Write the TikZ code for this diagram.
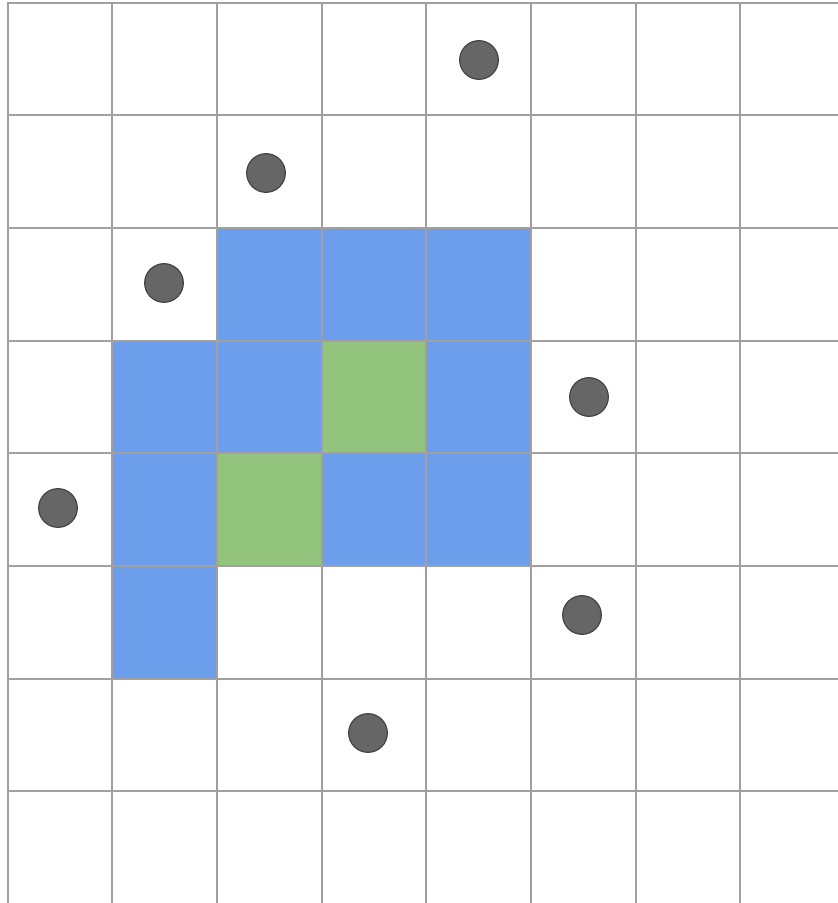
\documentclass[tikz,border=0pt]{standalone}
\definecolor{cellblue}{HTML}{6D9EEB}
\definecolor{cellgreen}{HTML}{93C47D}
\definecolor{gridgray}{HTML}{A0A0A0}
\definecolor{dotgray}{HTML}{666666}
\definecolor{dotrim}{HTML}{444444}
\begin{document}
\begin{tikzpicture}[x=0.75pt,y=-0.75pt,gridline/.style={draw=gridgray,line width=1.5pt,line cap=rect},dot/.style={circle,draw=dotrim,fill=dotgray,line width=0.9pt,minimum size=29pt,inner sep=0pt}]
\useasboundingbox (0,0) rectangle (838,903);
% filled cells
\foreach \c/\r in {2/2,3/2,4/2,1/3,2/3,4/3,1/4,3/4,4/4,1/5}{\fill[cellblue] ({7.5+104.7*\c},{2.5+112.7*\r}) rectangle ++(104.7,112.7);}
\foreach \c/\r in {3/3,2/4}{\fill[cellgreen] ({7.5+104.7*\c},{2.5+112.7*\r}) rectangle ++(104.7,112.7);}
% grid
\foreach \c in {0,...,7}{\draw[gridline] ({7.5+104.7*\c},2.5) -- ({7.5+104.7*\c},905);}
\foreach \r in {0,...,7}{\draw[gridline] (7.5,{2.5+112.7*\r}) -- (840,{2.5+112.7*\r});}
% points
\node[dot] (p1) at (479,60){};\node[dot] (p2) at (266,173){};\node[dot] (p3) at (164,283){};\node[dot] (p4) at (589,397){};
\node[dot] (p5) at (58,508){};\node[dot] (p6) at (582,615){};\node[dot] (p7) at (368,733){};
\end{tikzpicture}
\end{document}
